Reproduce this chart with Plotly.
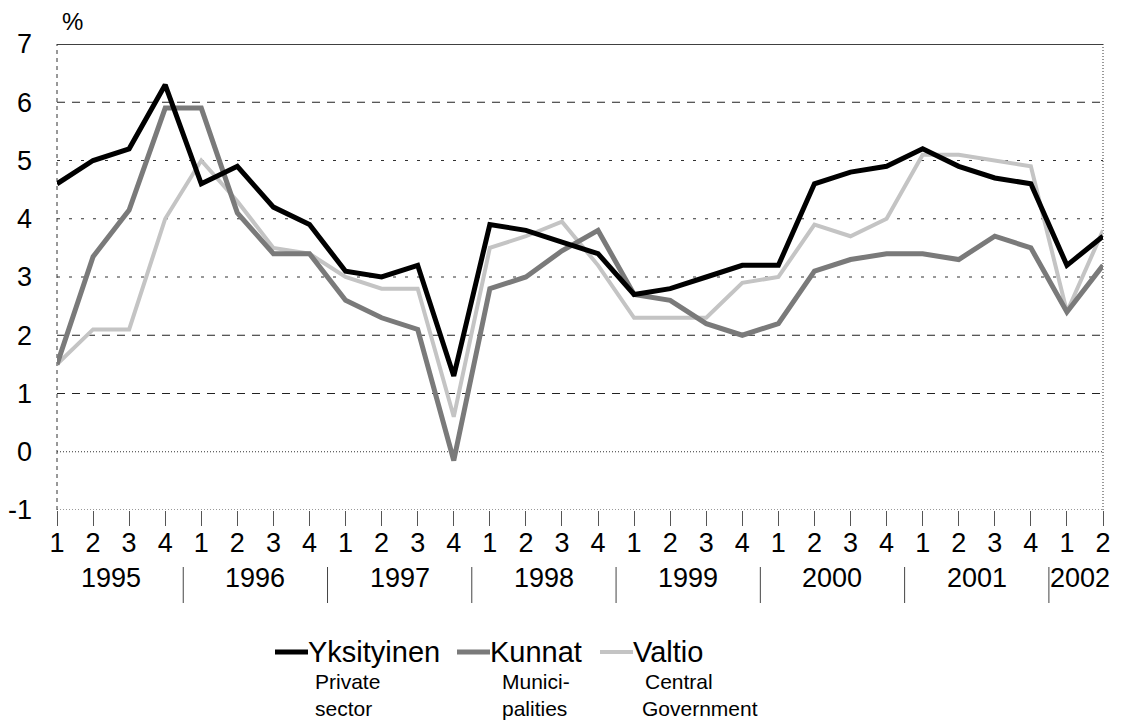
import plotly.graph_objects as go

# ---- data ----
quarter_labels = ["1", "2", "3", "4"] * 7 + ["1", "2"]
years = ["1995", "1996", "1997", "1998", "1999", "2000", "2001", "2002"]
y_ticks = [-1, 0, 1, 2, 3, 4, 5, 6, 7]
y_tick_labels = ["-1", "0", "1", "2", "3", "4", "5", "6", "7"]

yksityinen = [4.6, 5.0, 5.2, 6.3, 4.6, 4.9, 4.2, 3.9, 3.1, 3.0, 3.2, 1.3,
              3.9, 3.8, 3.6, 3.4, 2.7, 2.8, 3.0, 3.2, 3.2, 4.6, 4.8, 4.9,
              5.2, 4.9, 4.7, 4.6, 3.2, 3.7]
kunnat = [1.5, 3.35, 4.15, 5.9, 5.9, 4.1, 3.4, 3.4, 2.6, 2.3, 2.1, -0.15,
          2.8, 3.0, 3.45, 3.8, 2.7, 2.6, 2.2, 2.0, 2.2, 3.1, 3.3, 3.4,
          3.4, 3.3, 3.7, 3.5, 2.4, 3.2]
valtio = [1.5, 2.1, 2.1, 4.0, 5.0, 4.3, 3.5, 3.4, 3.0, 2.8, 2.8, 0.6,
          3.5, 3.7, 3.95, 3.2, 2.3, 2.3, 2.3, 2.9, 3.0, 3.9, 3.7, 4.0,
          5.1, 5.1, 5.0, 4.9, 2.4, 3.8]

series_names = ["Yksityinen", "Kunnat", "Valtio"]
series_sub = [["Private", "sector"], ["Munici-", "palities"], ["Central", "Government"]]

x = list(range(len(quarter_labels)))

# page has an 8px body margin; work in page pixel coordinates
OFF = 8
W, H = 1121 - OFF, 723 - OFF
PL, PR, PT, PB = 57, 1103, 44, 510          # plot area in page coordinates
PW, PH = PR - PL, PB - PT
L, T = PL - OFF, PT - OFF
R, B = W - (PR - OFF), H - (PB - OFF)

def px(xp):
    return (xp - PL) / PW

def py(yp):
    return (PB - yp) / PH

FONT = "Arial, Liberation Sans, sans-serif"
C_Y, C_K, C_V = "#000000", "#7a7a7a", "#c4c4c4"

fig = go.Figure()
fig.add_trace(go.Scatter(x=x, y=valtio, mode="lines", name=series_names[2],
                         line=dict(color=C_V, width=4), showlegend=False))
fig.add_trace(go.Scatter(x=x, y=kunnat, mode="lines", name=series_names[1],
                         line=dict(color=C_K, width=5), showlegend=False))
fig.add_trace(go.Scatter(x=x, y=yksityinen, mode="lines", name=series_names[0],
                         line=dict(color=C_Y, width=5), showlegend=False))

shapes = []
for v in [1, 2, 6]:
    shapes.append(dict(type="line", xref="paper", yref="y", x0=0, x1=1, y0=v, y1=v,
                       line=dict(color="#222", width=1.2, dash="8px,7px"), layer="below"))
for v in [3, 4, 5]:
    shapes.append(dict(type="line", xref="paper", yref="y", x0=0, x1=1, y0=v, y1=v,
                       line=dict(color="#333", width=1, dash="3px,9px"), layer="below"))
for v in [0, -1]:
    shapes.append(dict(type="line", xref="paper", yref="y", x0=0, x1=1, y0=v, y1=v,
                       line=dict(color="#333", width=1, dash="1px,2px"), layer="below"))
shapes.append(dict(type="line", xref="paper", yref="y", x0=0, x1=1, y0=7, y1=7,
                   line=dict(color="#000", width=1.5), layer="below"))
shapes.append(dict(type="line", xref="paper", yref="paper", x0=0, x1=0, y0=0, y1=1,
                   line=dict(color="#333", width=1, dash="4px,4px"), layer="below"))
shapes.append(dict(type="line", xref="paper", yref="paper", x0=1, x1=1, y0=0, y1=1,
                   line=dict(color="#333", width=1, dash="1px,2px"), layer="below"))

# year separators
for k in range(1, len(years)):
    xs = 4 * k - 0.5
    shapes.append(dict(type="line", xref="x", yref="paper", x0=xs, x1=xs,
                       y0=py(567), y1=py(603), line=dict(color="#444", width=1)))

annotations = []
for k, yr in enumerate(years):
    xc = 1.5 + 4 * k if k < len(years) - 1 else 28.35
    annotations.append(dict(text=yr, x=xc, xref="x", y=py(578), yref="paper",
                            xanchor="center", yanchor="middle", showarrow=False,
                            font=dict(family=FONT, size=27, color="#000")))

annotations.append(dict(text="%", x=px(72), xref="paper", y=py(22), yref="paper",
                        xanchor="center", yanchor="middle", showarrow=False,
                        font=dict(family=FONT, size=24, color="#000")))

# custom legend
leg = [
    dict(x0=275, x1=308, tx=308, sx=315, color=C_Y, width=5),
    dict(x0=457, x1=490, tx=490, sx=502, color=C_K, width=5),
    dict(x0=600, x1=633, tx=633, sx=645, color=C_V, width=4),
]
for i, lg in enumerate(leg):
    shapes.append(dict(type="line", xref="paper", yref="paper",
                       x0=px(lg["x0"]), x1=px(lg["x1"]), y0=py(652), y1=py(652),
                       line=dict(color=lg["color"], width=lg["width"])))
    annotations.append(dict(text=series_names[i], x=px(lg["tx"]), xref="paper",
                            y=py(652), yref="paper", xanchor="left", yanchor="middle",
                            showarrow=False, xshift=-2,
                            font=dict(family=FONT, size=29, color="#000")))
    for j, s in enumerate(series_sub[i]):
        annotations.append(dict(text=s, x=px(lg["sx"] - (3 if s == "Government" else 0)),
                                xref="paper", y=py(681 + 27 * j), yref="paper",
                                xanchor="left", yanchor="middle", showarrow=False,
                                xshift=-2,
                                font=dict(family=FONT, size=21, color="#000")))

fig.update_layout(
    width=W, height=H,
    margin=dict(l=L, r=R, t=T, b=B, pad=0, autoexpand=False),
    paper_bgcolor="white", plot_bgcolor="white",
    showlegend=False,
    shapes=shapes, annotations=annotations,
    xaxis=dict(range=[0, 29], tickmode="array", tickvals=x, ticktext=quarter_labels,
               showgrid=False, zeroline=False, showline=False, automargin=False,
               ticks="outside", ticklen=15, tickcolor="#555", tickwidth=1,
               ticklabelstandoff=-6,
               tickfont=dict(family=FONT, size=27, color="#000")),
    yaxis=dict(range=[-1, 7], tickmode="array", tickvals=y_ticks, ticktext=y_tick_labels,
               showgrid=False, zeroline=False, showline=False, ticks="", automargin=False,
               ticklabelstandoff=24,
               tickfont=dict(family=FONT, size=27, color="#000")),
)

fig.write_html("out.html")
